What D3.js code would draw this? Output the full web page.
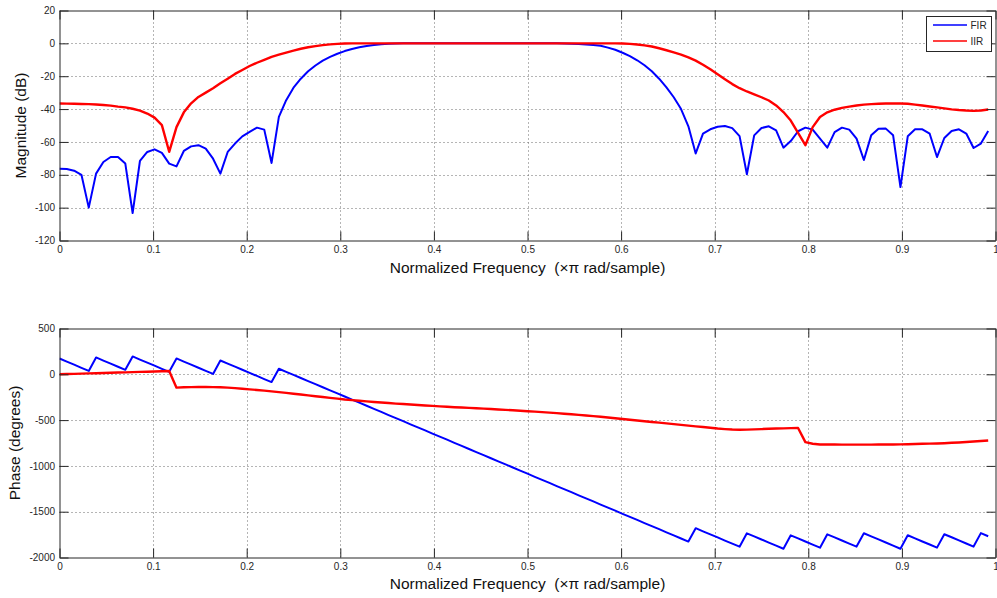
<!DOCTYPE html>
<html>
<head>
<meta charset="utf-8">
<script src="https://cdn.jsdelivr.net/npm/d3@7"></script>
<style>
  html, body { margin: 0; padding: 0; background: #fff; }
  svg { display: block; font-family: "Liberation Sans", Arial, sans-serif; }
</style>
</head>
<body>
<svg id="chart" width="997" height="598"></svg>
<script>
// Frequency response of a FIR and an IIR band-pass filter, 128 points on [0, 1) x pi rad/sample
const nPoints = 128;

const xTicks = [0, 0.1, 0.2, 0.3, 0.4, 0.5, 0.6, 0.7, 0.8, 0.9, 1];
const xTickLabels = ["0", "0.1", "0.2", "0.3", "0.4", "0.5", "0.6", "0.7", "0.8", "0.9", "1"];
const magTicks = [20, 0, -20, -40, -60, -80, -100, -120];
const phaseTicks = [500, 0, -500, -1000, -1500, -2000];

const seriesNames = ["FIR", "IIR"];

// Magnitude (dB)
const firMag = [
  -76.3, -76.5, -77.5, -80, -100, -79.3, -72.2, -69.2, -69.2, -73.2,
  -103.3, -71.6, -66.1, -64.5, -66.7, -73.2, -74.9, -65.5, -62.7, -62.0,
  -64.1, -70.2, -79.3, -66.1, -61, -56.6, -53.9, -51.3, -52.5, -72.8,
  -44.8, -34.6, -27, -21.5, -17, -13.5, -10.5, -8.2, -6.3, -4.7,
  -3.4, -2.4, -1.6, -1.0, -0.6, -0.3, -0.1, 0, 0, 0,
  0, 0, 0, 0, 0, 0, 0, 0, 0, 0,
  0, 0, 0, 0, 0, 0, 0, 0, 0, -0.1,
  -0.2, -0.4, -0.7, -1.0, -1.5, -2.6, -3.9, -5.7, -7.8, -10.3,
  -13.3, -17, -21.5, -26.8, -32.8, -40, -50.5, -67, -55, -52.3,
  -50.8, -50.3, -51.6, -56.5, -79.7, -56, -51.5, -50.5, -53, -63.5,
  -59.5, -53.5, -51.3, -52.5, -58, -63.5, -54, -51.3, -52.5, -58,
  -71, -56, -52, -51.9, -56, -87.5, -56.6, -52.3, -52.3, -55,
  -69.2, -57.6, -53.3, -52.3, -54.9, -63.7, -61, -53.3
];

const iirMag = [
  -36.6, -36.7, -36.8, -36.9, -37.0, -37.2, -37.5, -37.9, -38.5, -39.0,
  -39.8, -41, -42.7, -45.2, -49.8, -66, -51, -42, -36.5, -32.6,
  -30, -27.3, -24.3, -21.5, -18.6, -16.2, -13.8, -11.8, -10, -8.2,
  -6.9, -5.6, -4.4, -3.3, -2.4, -1.7, -1.1, -0.6, -0.3, -0.1,
  0, 0, 0, 0, 0, 0, 0, 0, 0, 0,
  0, 0, 0, 0, 0, 0, 0, 0, 0, 0,
  0, 0, 0, 0, 0, 0, 0, 0, 0, 0,
  0, 0, 0, 0, 0, 0, 0, -0.1, -0.3, -0.7,
  -1.2, -1.9, -3, -4.2, -5.5, -6.8, -8.5, -10.5, -13, -15.8,
  -18.8, -21.8, -24.8, -27.3, -29.3, -31, -32.8, -34.8, -37.8, -41.8,
  -47, -54.5, -62, -51, -44.8, -42, -40.4, -39.3, -38.5, -37.8,
  -37.3, -37, -36.8, -36.6, -36.6, -36.6, -36.8, -37.3, -37.8, -38.4,
  -39, -39.6, -40.2, -40.6, -40.9, -41.1, -40.9, -40.3
];

// Phase (degrees)
const firPhase = [
  172, 138, 105, 71, 37, 184, 150, 116, 82, 49,
  195, 161, 128, 94, 60, 27, 173, 139, 105, 72,
  38, 4, 151, 117, 83, 50, 16, -18, -52, -85,
  61, 27, -6, -40, -74, -108, -141, -175, -209, -242,
  -276, -310, -343, -377, -411, -445, -478, -512, -546, -579,
  -613, -647, -680, -714, -748, -782, -815, -849, -883, -916,
  -950, -984, -1017, -1051, -1085, -1119, -1152, -1186, -1220, -1253,
  -1287, -1321, -1354, -1388, -1422, -1456, -1489, -1523, -1557, -1590,
  -1624, -1658, -1691, -1725, -1759, -1793, -1826, -1680, -1714, -1747,
  -1781, -1815, -1848, -1882, -1736, -1770, -1803, -1837, -1871, -1904,
  -1758, -1792, -1825, -1859, -1893, -1747, -1780, -1814, -1848, -1881,
  -1735, -1769, -1802, -1836, -1870, -1904, -1757, -1791, -1825, -1858,
  -1892, -1746, -1779, -1813, -1847, -1881, -1734, -1768
];

const iirPhase = [
  0, 2.5, 5, 7.5, 10, 12, 14, 16.5, 19, 21,
  24, 26, 28.5, 31, 33.5, 36, -146, -142, -140, -139,
  -139, -140, -142, -146, -151, -157, -164, -171, -178, -186,
  -194, -203, -212, -221, -230, -239, -248, -257, -266, -275,
  -282, -289, -296, -302, -308, -314, -320, -325, -330, -335,
  -340, -345, -350, -355, -359, -363, -367, -371, -375, -379,
  -384, -388, -393, -398, -403, -408, -413, -418, -424, -430,
  -436, -443, -450, -457, -464, -472, -480, -488, -496, -504,
  -512, -520, -528, -536, -544, -552, -560, -568, -576, -584,
  -592, -598, -603, -605, -604, -601, -598, -595, -592, -590,
  -588, -587, -741, -758, -766, -766, -767, -768, -768, -768,
  -768, -768, -767, -767, -766, -765, -763, -761, -759, -757,
  -755, -752, -748, -744, -739, -734, -728, -722
];

const colors = { FIR: "#0000ff", IIR: "#ff0000" };
const widths = { FIR: 2, IIR: 2.4 };
const axisColor = "#262626";
const xLabel = "Normalized Frequency  (\u00d7\u03c0 rad/sample)";

const svg = d3.select("#chart");
svg.append("rect").attr("width", 997).attr("height", 598).attr("fill", "#fff");

const x = d3.scaleLinear().domain([0, 1]).range([59.5, 995.5]);
const freqIndex = d3.range(nPoints);
const fOf = i => i / nPoints;

function drawPanel(opts) {
  const { id, y, yTicks, series, yLabel, yLabelX, xLabelY } = opts;
  const [yBottom, yTop] = y.range();
  const g = svg.append("g").attr("class", "panel-" + id);

  // dotted grid
  const grid = g.append("g").attr("stroke", "#3a3a3a").attr("stroke-width", 1)
    .attr("stroke-dasharray", "1,3").attr("opacity", 0.75);
  grid.selectAll("line.vx").data(xTicks.slice(1, -1)).join("line")
    .attr("x1", d => Math.round(x(d)) + 0.5).attr("x2", d => Math.round(x(d)) + 0.5)
    .attr("y1", yTop).attr("y2", yBottom);
  grid.selectAll("line.hy").data(yTicks.slice(1, -1)).join("line")
    .attr("y1", d => Math.round(y(d)) + 0.5).attr("y2", d => Math.round(y(d)) + 0.5)
    .attr("x1", x.range()[0]).attr("x2", x.range()[1]);

  // curves
  const clipId = "clip-" + id;
  g.append("clipPath").attr("id", clipId).append("rect")
    .attr("x", x.range()[0]).attr("y", yTop)
    .attr("width", x.range()[1] - x.range()[0]).attr("height", yBottom - yTop);
  const line = vals => d3.line().x(i => x(fOf(i))).y(i => y(vals[i]))(freqIndex);
  const curves = g.append("g").attr("clip-path", `url(#${clipId})`);
  series.forEach(s => {
    curves.append("path").attr("d", line(s.values)).attr("fill", "none")
      .attr("stroke", colors[s.name]).attr("stroke-width", widths[s.name])
      .attr("stroke-linejoin", "round");
  });

  // axes with inward ticks on all four sides
  const styleAxis = sel => {
    sel.select(".domain").attr("stroke", axisColor);
    sel.selectAll(".tick line").attr("stroke", axisColor);
    sel.selectAll("text").attr("fill", "#262626").attr("font-size", 10)
      .attr("font-family", "'Liberation Sans', Arial, sans-serif");
  };
  g.append("g").attr("transform", `translate(0,${yBottom})`)
    .call(d3.axisBottom(x).tickValues(xTicks).tickSize(-9).tickSizeOuter(0).tickPadding(5)
      .tickFormat((d, i) => xTickLabels[i]))
    .call(styleAxis);
  g.append("g").attr("transform", `translate(0,${yTop})`)
    .call(d3.axisTop(x).tickValues(xTicks).tickSize(-9).tickSizeOuter(0).tickFormat(""))
    .call(styleAxis);
  g.append("g").attr("transform", `translate(${x.range()[0]},0)`)
    .call(d3.axisLeft(y).tickValues(yTicks).tickSize(-9).tickSizeOuter(0).tickPadding(4.5)
      .tickFormat(d3.format("d")))
    .call(styleAxis);
  g.append("g").attr("transform", `translate(${x.range()[1]},0)`)
    .call(d3.axisRight(y).tickValues(yTicks).tickSize(-9).tickSizeOuter(0).tickFormat(""))
    .call(styleAxis);
  g.selectAll(".domain").attr("stroke-width", 1);
  // plain hyphen for negative tick labels
  g.selectAll(".tick text").text(function () { return this.textContent.replace("\u2212", "-"); });

  // axis titles
  g.append("text").attr("x", (x.range()[0] + x.range()[1]) / 2).attr("y", xLabelY)
    .attr("text-anchor", "middle").attr("font-size", 15.5).attr("fill", "#111")
    .style("white-space", "pre").text(xLabel);
  g.append("text")
    .attr("transform", `translate(${yLabelX},${(yTop + yBottom) / 2}) rotate(-90)`)
    .attr("text-anchor", "middle").attr("font-size", 15.5).attr("fill", "#111")
    .text(yLabel);
}

drawPanel({
  id: "mag",
  y: d3.scaleLinear().domain([-120, 20]).range([240.5, 10.5]),
  yTicks: magTicks,
  series: [{ name: "FIR", values: firMag }, { name: "IIR", values: iirMag }],
  yLabel: "Magnitude (dB)",
  yLabelX: 26,
  xLabelY: 272.5
});

drawPanel({
  id: "phase",
  y: d3.scaleLinear().domain([-2000, 500]).range([557.5, 328.5]),
  yTicks: phaseTicks,
  series: [{ name: "FIR", values: firPhase }, { name: "IIR", values: iirPhase }],
  yLabel: "Phase (degrees)",
  yLabelX: 20,
  xLabelY: 589
});

// legend
const legend = svg.append("g").attr("class", "legend");
legend.append("rect").attr("x", 926.5).attr("y", 16.5).attr("width", 65).attr("height", 35)
  .attr("fill", "#fff").attr("stroke", axisColor).attr("stroke-width", 1);
seriesNames.forEach((name, i) => {
  const ly = 25 + i * 16;
  legend.append("line").attr("x1", 933).attr("x2", 967).attr("y1", ly).attr("y2", ly)
    .attr("stroke", colors[name]).attr("stroke-width", 1.6);
  legend.append("text").attr("x", 970.5).attr("y", ly + 3.6).attr("font-size", 10)
    .attr("fill", "#262626").text(name);
});
</script>
</body>
</html>
